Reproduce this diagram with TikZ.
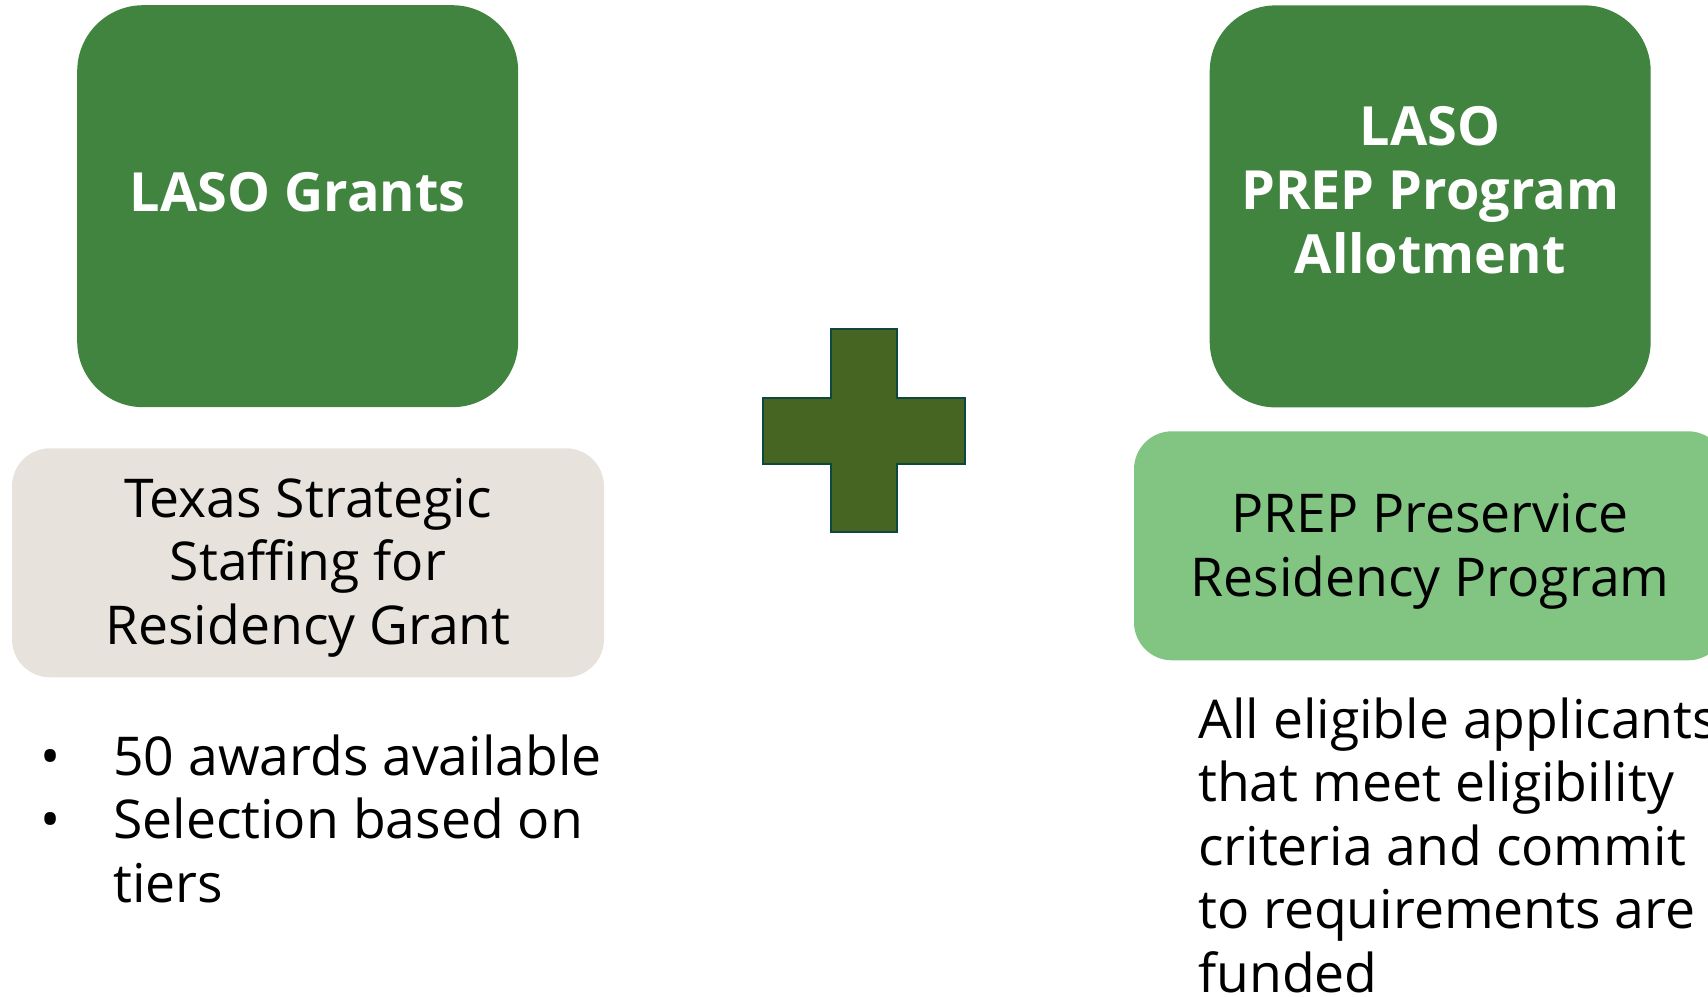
\documentclass[tikz,border=0pt]{standalone}
\usepackage{fontspec}
\setmainfont{Open Sans}
\usepackage{array}
\definecolor{boxdark}{RGB}{65,132,64}
\definecolor{boxlight}{RGB}{130,196,130}
\definecolor{boxtan}{RGB}{231,227,220}
\definecolor{plusfill}{RGB}{70,101,34}
\definecolor{plusline}{RGB}{12,72,62}
\tikzset{
  darkbox/.style={draw=none, fill=boxdark, rounded corners=66pt, minimum width=441pt, minimum height=402pt, inner sep=0pt},
  tanbox/.style={draw=none, fill=boxtan, rounded corners=38pt, minimum width=592pt, minimum height=229pt, inner sep=0pt},
  lightbox/.style={draw=none, fill=boxlight, rounded corners=38pt, minimum width=592pt, minimum height=229pt, inner sep=0pt},
  bigtext/.style={inner sep=0pt, anchor=base, font=\fontsize{53.5}{63.5}\selectfont},
  titletext/.style={bigtext, text=white, font=\fontsize{54}{64}\selectfont\bfseries},
  bodytext/.style={bigtext, text=black},
}
\begin{document}
\begin{tikzpicture}[x=1pt, y=-1pt]
\useasboundingbox (0,0) rectangle (1708,996);
% boxes
\node[darkbox] (lasobox) at (297.7,206.2) {};
\node[darkbox] (prepbox) at (1430.2,206.4) {};
\node[tanbox] (tsbox) at (308,562.8) {};
\node[lightbox] (resbox) at (1430,545.8) {};
% titles
\node[titletext] (lasotxt) at (297.7,211) {LASO Grants};
\node[titletext] (preptxt) at (1430.2,145.3) {\begin{tabular}[t]{@{}c@{}}LASO\\PREP Program\\Allotment\end{tabular}};
% box texts
\node[bodytext] (tstxt) at (308,517.3) {\begin{tabular}[t]{@{}c@{}}Texas Strategic\\Staffing for\\Residency Grant\end{tabular}};
\node[bodytext] (restxt) at (1430,532.5) {\begin{tabular}[t]{@{}c@{}}PREP Preservice\\Residency Program\end{tabular}};
% bullets
\node[bodytext, anchor=base west] (bullets) at (40,775) {\begin{tabular}[t]{@{}p{73pt}@{}l@{}}\textbullet & 50 awards available\\\textbullet & Selection based on\\ & tiers\end{tabular}};
% right body
\node[bodytext, anchor=base west] (fundtxt) at (1198,738.3) {\begin{tabular}[t]{@{}l@{}}All eligible applicants\\that meet eligibility\\criteria and commit\\to requirements are\\funded\end{tabular}};
% plus sign
\draw[fill=plusfill, draw=plusline, line width=2pt]
  (831,329.3) -- (896.7,329.3) -- (896.7,398.3) -- (965,398.3) -- (965,464)
  -- (896.7,464) -- (896.7,532.3) -- (831,532.3) -- (831,464) -- (762.7,464)
  -- (762.7,398.3) -- (831,398.3) -- cycle;
\end{tikzpicture}
\end{document}
